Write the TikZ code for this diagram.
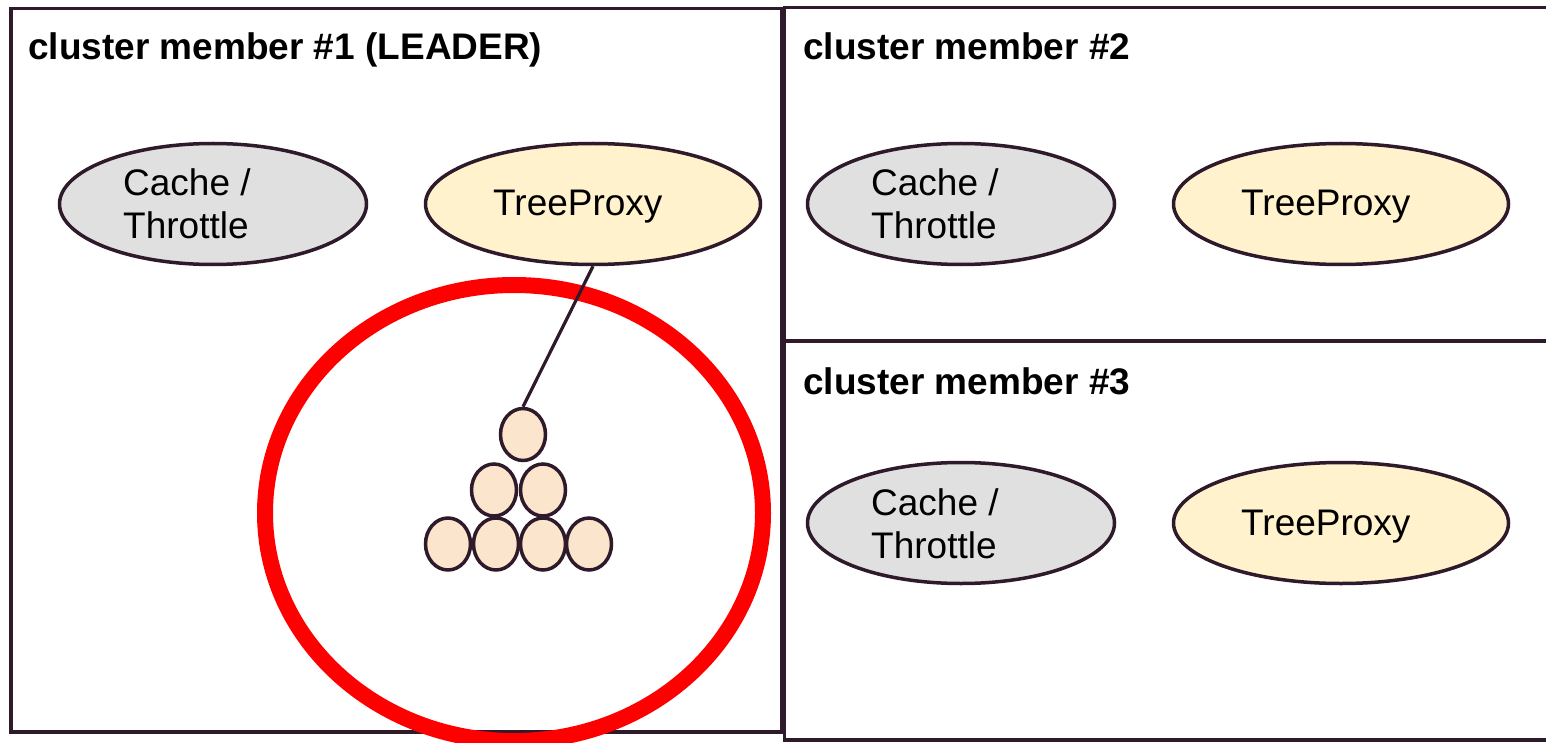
\documentclass[tikz,border=0pt]{standalone}
\usepackage{fontspec}
\setmainfont{Liberation Sans}
\usetikzlibrary{shapes.geometric}
\definecolor{edge}{RGB}{46,26,42}
\definecolor{cachefill}{RGB}{224,224,224}
\definecolor{proxyfill}{RGB}{255,242,204}
\definecolor{ballfill}{RGB}{252,229,205}
\definecolor{hilite}{RGB}{255,0,0}
\tikzset{
  box/.style={draw=edge, line width=3.2pt},
  title/.style={anchor=base west, inner sep=0pt, font=\fontsize{37}{41}\selectfont\bfseries},
  lbl/.style={anchor=base west, inner sep=0pt, font=\fontsize{37}{43}\selectfont},
  cacheell/.style={ellipse, draw=edge, line width=3.5pt, fill=cachefill, minimum width=307pt, minimum height=121pt, inner sep=0pt},
  proxyell/.style={ellipse, draw=edge, line width=3.5pt, fill=proxyfill, minimum width=335pt, minimum height=121pt, inner sep=0pt},
  ball/.style={ellipse, draw=edge, line width=3.5pt, fill=ballfill, minimum width=45pt, minimum height=52pt, inner sep=0pt},
  ring/.style={draw=hilite, line width=16pt},
  link/.style={draw=edge, line width=3.2pt}
}
\begin{document}
\begin{tikzpicture}[x=1pt, y=-1pt]
\useasboundingbox (0,0) rectangle (1546,743);
% boxes
\draw[box] (11,8.5) rectangle (782,732);
\draw[box] (784.5,7.5) rectangle (1570,341);
\draw[box] (784.5,341) rectangle (1570,740);
% titles
\node[title] (t1) at (28,60) {cluster member \#1 (LEADER)};
\node[title] (t2) at (803,60) {cluster member \#2};
\node[title] (t3) at (803,394) {cluster member \#3};
% member 1
\node[cacheell] (c1) at (213,204) {};
\node[lbl] (c1t) at (123,196) {\begin{tabular}[t]{@{}l@{}}Cache /\\Throttle\end{tabular}};
\node[proxyell] (p1) at (593,204) {};
\node[lbl] (p1t) at (493,216) {TreeProxy};
% member 2
\node[cacheell] (c2) at (961,204) {};
\node[lbl] (c2t) at (871,196) {\begin{tabular}[t]{@{}l@{}}Cache /\\Throttle\end{tabular}};
\node[proxyell] (p2) at (1341,204) {};
\node[lbl] (p2t) at (1241,216) {TreeProxy};
% member 3
\node[cacheell] (c3) at (961,523) {};
\node[lbl] (c3t) at (871,515) {\begin{tabular}[t]{@{}l@{}}Cache /\\Throttle\end{tabular}};
\node[proxyell] (p3) at (1341,523) {};
\node[lbl] (p3t) at (1241,535) {TreeProxy};
% red ring
\draw[ring] (514,513) ellipse [x radius=249, y radius=228];
% tree of balls
\node[ball] (b1) at (523,434.5) {};
\node[ball] (b21) at (494,490) {};
\node[ball] (b22) at (543,490) {};
\node[ball] (b31) at (448,544) {};
\node[ball] (b32) at (496,544) {};
\node[ball] (b33) at (543,544) {};
\node[ball] (b34) at (589,544) {};
% connector
\draw[link] (p1.south) -- (b1.north);
\end{tikzpicture}
\end{document}
